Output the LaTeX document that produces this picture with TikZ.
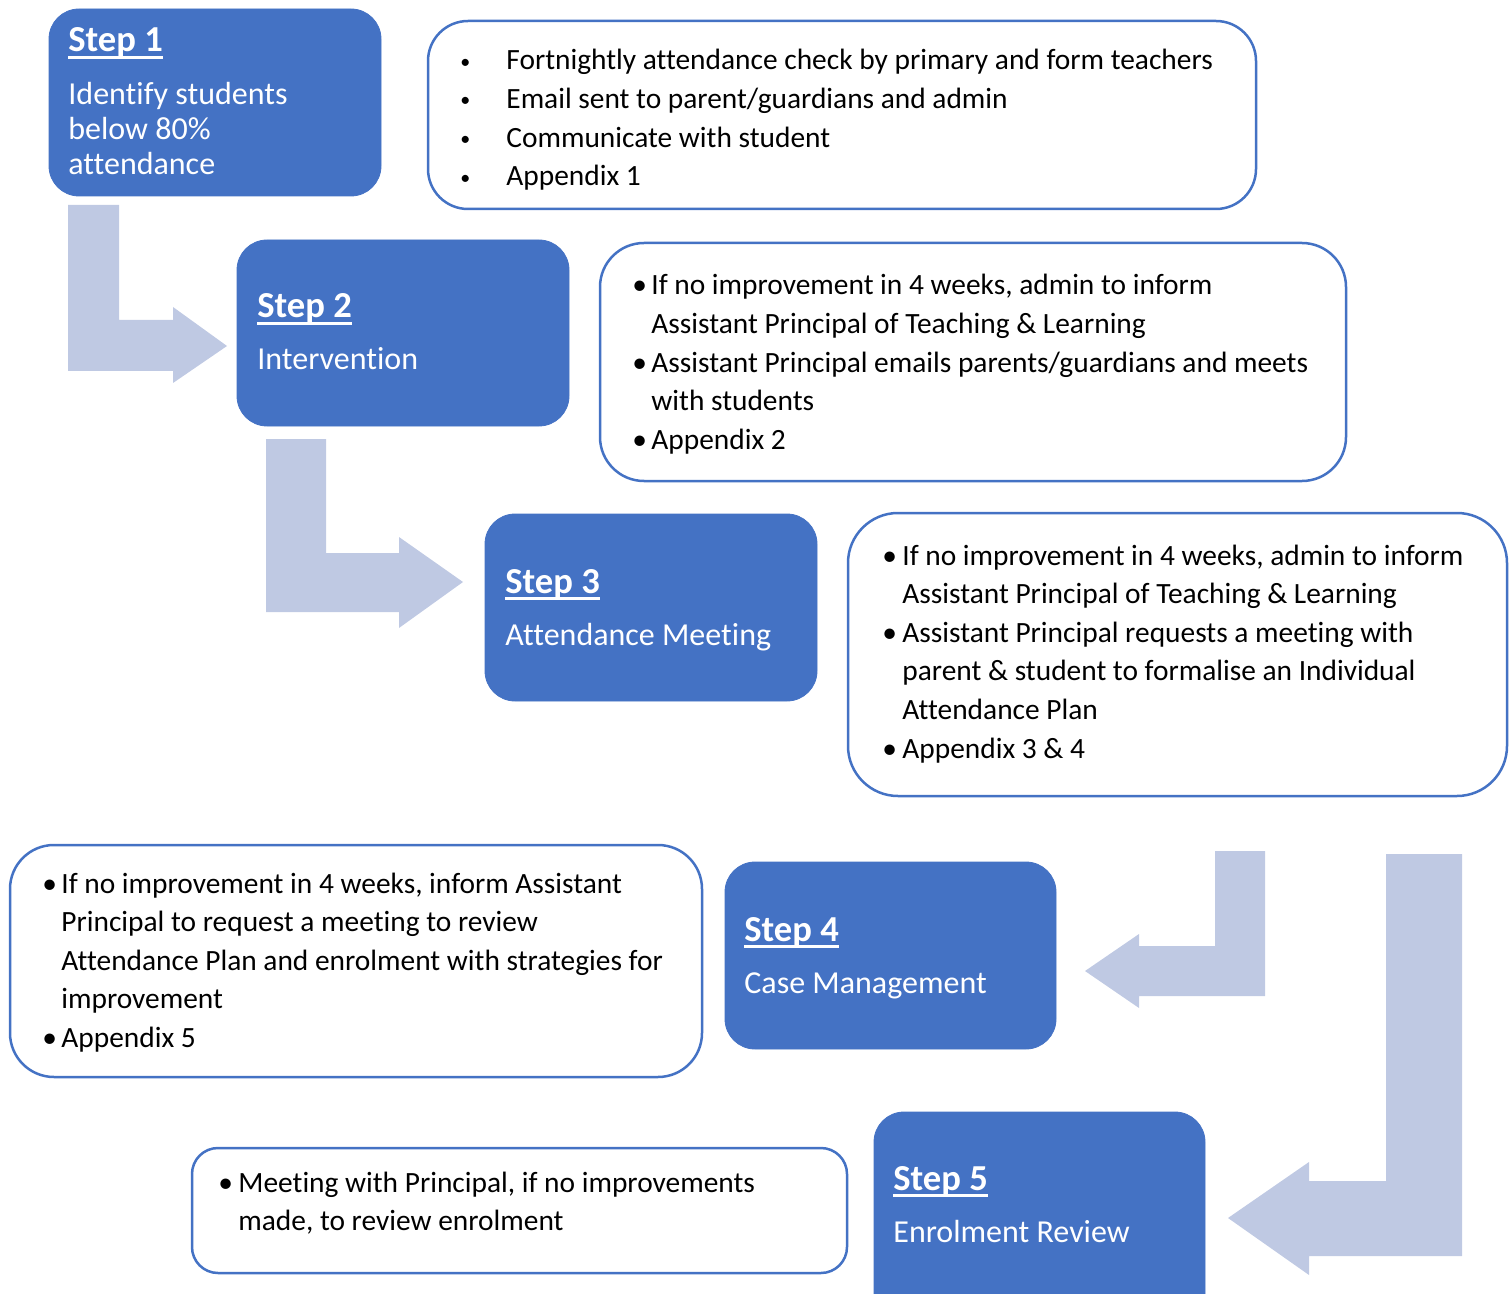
\documentclass[tikz,border=0pt]{standalone}
\usepackage{fontspec}
\setmainfont{Carlito}[Ligatures={NoCommon}]
\usetikzlibrary{fit}
\definecolor{stepblue}{HTML}{4472C4}
\definecolor{arrowblue}{RGB}{191,201,227}
\newcommand{\bl}[1]{\makebox[#1][l]{\textbullet}}
\newcommand{\sbl}[1]{\makebox[#1][l]{\fontsize{10}{10}\selectfont\raisebox{0.8pt}{\textbullet}}}
\newcommand{\stepul}[1]{\setbox0\hbox{#1}\rlap{\rule[-3.3pt]{\wd0}{1.3pt}}\box0}
\begin{document}
\begin{tikzpicture}[x=0.5pt,y=-0.5pt,
  stepbox/.style={fill=stepblue, draw=stepblue, rounded corners=15pt, inner sep=0pt},
  infobox/.style={draw=stepblue, line width=1.25pt, fill=white, rounded corners=20pt, inner sep=0pt},
  bigarrow/.style={fill=arrowblue, draw=none},
  steptitle/.style={anchor=base west, inner sep=0pt, text=white, font=\fontsize{18.3}{21}\selectfont\bfseries},
  stepdesc/.style={anchor=base west, inner sep=0pt, text=white, font=\fontsize{16}{17.5}\selectfont},
  infotext/.style={anchor=base west, inner sep=0pt, font=\fontsize{14.7}{19.3}\selectfont}]
\useasboundingbox (0,0) rectangle (1509,1294);
\clip (0,0) rectangle (1509,1294);

% arrows
\path[bigarrow] (68,205) -- (119,205) -- (119,320) -- (173,320) -- (173,307) -- (227,346) -- (173,383) -- (173,371) -- (68,371) -- cycle;
\path[bigarrow] (266,439) -- (326,439) -- (326,553) -- (399,553) -- (399,537) -- (463,582) -- (399,628) -- (399,612) -- (266,612) -- cycle;
\path[bigarrow] (1265,851) -- (1215,851) -- (1215,946) -- (1139,946) -- (1139,934) -- (1085,971) -- (1139,1008) -- (1139,996) -- (1265,996) -- cycle;
\path[bigarrow] (1462,854) -- (1386,854) -- (1386,1181) -- (1309,1181) -- (1309,1162) -- (1228,1218) -- (1309,1275) -- (1309,1256) -- (1462,1256) -- cycle;

% step boxes
\node[stepbox, fit={(49,9) (381,196)}] (s1) {};
\node[stepbox, fit={(237,240) (569,426)}] (s2) {};
\node[stepbox, fit={(485,514) (817,701)}] (s3) {};
\node[stepbox, fit={(725,862) (1056,1049)}] (s4) {};
\node[stepbox, fit={(874,1112) (1205,1330)}] (s5) {};

% info boxes
\node[infobox, fit={(428,21) (1256,209)}] (b1) {};
\node[infobox, rounded corners=22pt, fit={(600,243) (1346,481)}] (b2) {};
\node[infobox, rounded corners=25pt, fit={(848,513) (1507,796)}] (b3) {};
\node[infobox, rounded corners=22pt, fit={(10,845) (702,1077)}] (b4) {};
\node[infobox, rounded corners=13pt, fit={(192,1148) (847,1273)}] (b5) {};

% step texts
\node[steptitle] (t1) at (68,52) {\stepul{Step 1}};
\node[stepdesc] (d1) at (68,105) {\begin{tabular}[t]{@{}l@{}}Identify students\\below 80\%\\attendance\end{tabular}};
\node[steptitle] (t2) at (257,318) {\stepul{Step 2}};
\node[stepdesc] (d2) at (257,370) {Intervention};
\node[steptitle] (t3) at (505,593) {\stepul{Step 3}};
\node[stepdesc] (d3) at (505,645) {Attendance Meeting};
\node[steptitle] (t4) at (744,941) {\stepul{Step 4}};
\node[stepdesc] (d4) at (744,993) {Case Management};
\node[steptitle] (t5) at (893,1190) {\stepul{Step 5}};
\node[stepdesc] (d5) at (893,1242) {Enrolment Review};

% info texts
\node[infotext] (i1) at (460,70) {\begin{tabular}[t]{@{}l@{}l@{}}
\sbl{23pt}&Fortnightly attendance check by primary and form teachers\\
\sbl{23pt}&Email sent to parent/guardians and admin\\
\sbl{23pt}&Communicate with student\\
\sbl{23pt}&Appendix 1\end{tabular}};
\node[infotext] (i2) at (632,295) {\begin{tabular}[t]{@{}l@{}l@{}}
\bl{9.5pt}&If no improvement in 4 weeks, admin to inform\\
&Assistant Principal of Teaching \& Learning\\
\bl{9.5pt}&Assistant Principal emails parents/guardians and meets\\
&with students\\
\bl{9.5pt}&Appendix 2\end{tabular}};
\node[infotext] (i3) at (882,565) {\begin{tabular}[t]{@{}l@{}l@{}}
\bl{10pt}&If no improvement in 4 weeks, admin to inform\\
&Assistant Principal of Teaching \& Learning\\
\bl{10pt}&Assistant Principal requests a meeting with\\
&parent \& student to formalise an Individual\\
&Attendance Plan\\
\bl{10pt}&Appendix 3 \& 4\end{tabular}};
\node[infotext] (i4) at (42,893) {\begin{tabular}[t]{@{}l@{}l@{}}
\bl{9.5pt}&If no improvement in 4 weeks, inform Assistant\\
&Principal to request a meeting to review\\
&Attendance Plan and enrolment with strategies for\\
&improvement\\
\bl{9.5pt}&Appendix 5\end{tabular}};
\node[infotext] (i5) at (218,1192) {\begin{tabular}[t]{@{}l@{}l@{}}
\bl{10pt}&Meeting with Principal, if no improvements\\
&made, to review enrolment\end{tabular}};
\end{tikzpicture}
\end{document}
